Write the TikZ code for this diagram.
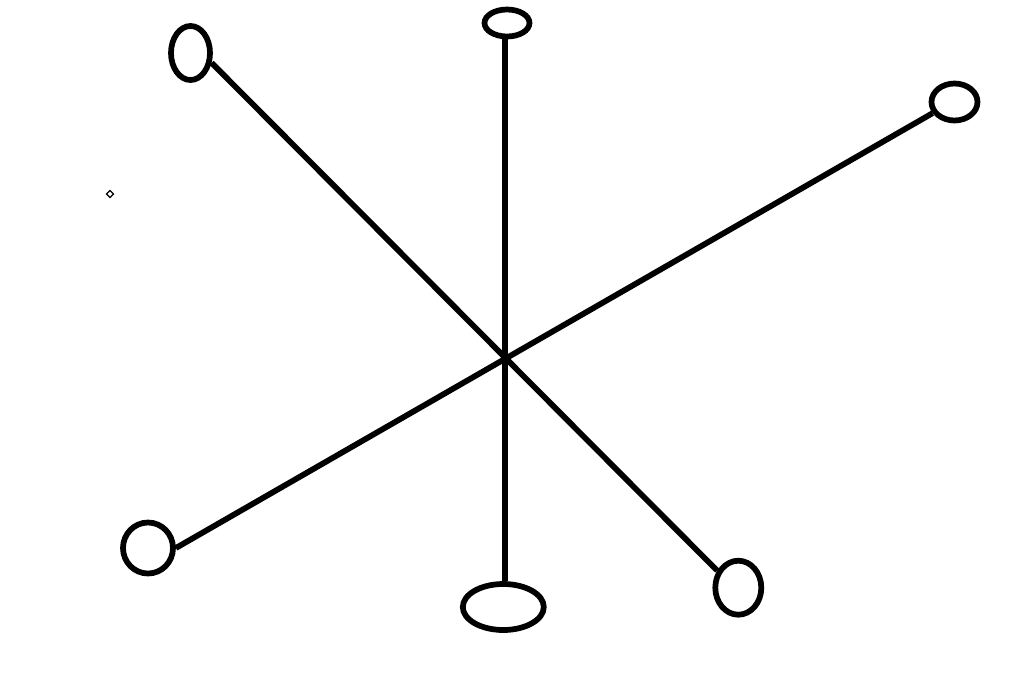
\documentclass[tikz,border=0pt]{standalone}
\usetikzlibrary{shapes.geometric}
\begin{document}
\begin{tikzpicture}[x=0.75pt,y=-0.75pt,
  endoval/.style={draw=black, ellipse, line width=4.3pt, inner sep=0pt},
  spoke/.style={draw=black, line width=4.3pt},
  tinymark/.style={draw=black, diamond, line width=0.9pt, inner sep=0pt, minimum size=5.5pt}]
\useasboundingbox (0,0) rectangle (1024,693);
\fill[white] (0,0) rectangle (1024,693);
\coordinate (c) at (505,359);
\node[endoval, minimum width=29.25pt, minimum height=40.5pt] (tl) at (190.5,53) {};
\node[endoval, minimum width=33.75pt, minimum height=20.25pt] (t) at (507,23) {};
\node[endoval, minimum width=34.5pt, minimum height=27.75pt] (r) at (954.5,102) {};
\node[endoval, minimum width=37.5pt, minimum height=38.25pt] (bl) at (148,548) {};
\node[endoval, minimum width=60.75pt, minimum height=34.5pt] (b) at (503.3,607) {};
\node[endoval, minimum width=34.5pt, minimum height=40.5pt] (br) at (738.3,587.7) {};
\node[tinymark] (dot) at (110,194) {};
\draw[spoke] (t.south -| c) -- (b.north -| c);
\draw[spoke] (tl.335) -- (br.141);
\draw[spoke] (bl.east) -- (r.207);
\end{tikzpicture}
\end{document}
